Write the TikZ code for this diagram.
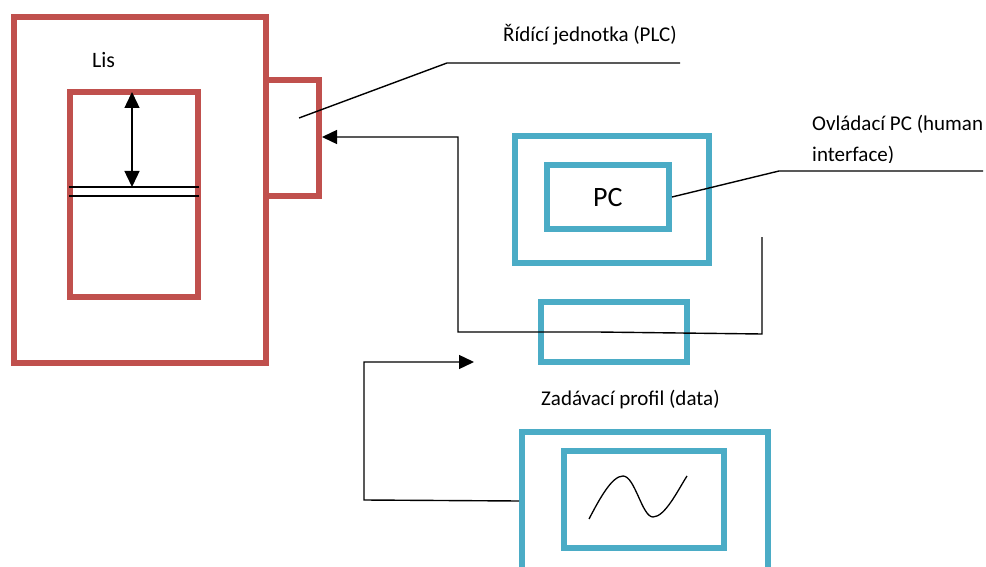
\documentclass[tikz,border=0pt]{standalone}
\usepackage{fontspec}
\setmainfont{Carlito}
\usetikzlibrary{arrows.meta}
\definecolor{lisred}{HTML}{C0504D}
\definecolor{pcblue}{HTML}{4BACC6}
\tikzset{
  redbox/.style={draw=lisred, line width=6pt, rectangle, inner sep=0pt, outer sep=0pt},
  bluebox/.style={draw=pcblue, line width=6.5pt, rectangle, inner sep=0pt, outer sep=0pt},
  wire/.style={draw=black, line width=1.4pt},
  arr/.style={wire, -{Triangle[length=15pt,width=14pt]}},
  darr/.style={wire, {Triangle[length=16pt,width=15pt]}-{Triangle[length=16pt,width=15pt]}},
  lbl/.style={font=\fontsize{21}{25}\selectfont, inner sep=0pt, anchor=base west},
}
\begin{document}
\begin{tikzpicture}[x=1pt,y=-1pt]
\useasboundingbox (0,0) rectangle (986,567);
% red machine
\node[redbox, minimum width=252pt, minimum height=346pt] (lis) at (140,190) {};
\node[redbox, minimum width=128pt, minimum height=205pt] (mold) at (134,194.5) {};
\node[redbox, minimum width=53pt, minimum height=116pt] (plc) at (292.5,138) {};
\node[lbl, font=\fontsize{22}{26}\selectfont] (lislbl) at (92,68) {Lis};
% ram lines and double arrow
\coordinate (l1a) at (69,187); \coordinate (l1b) at (199,187);
\coordinate (l2a) at (69,196); \coordinate (l2b) at (199,196);
\draw[wire] (l1a) -- (l1b);
\draw[wire] (l2a) -- (l2b);
\coordinate (atop) at (132,92); \coordinate (abot) at (132,187);
\draw[darr] (atop) -- (abot);
% PC
\node[bluebox, minimum width=194pt, minimum height=127pt] (pcout) at (612,199.5) {};
\node[bluebox, minimum width=122pt, minimum height=64pt] (pcin) at (608,197) {};
\node[inner sep=0pt, anchor=base west, font=\fontsize{28}{32}\selectfont] (pclbl) at (593,207) {PC};
% interface box
\node[bluebox, minimum width=146pt, minimum height=60pt] (iface) at (614,332) {};
% profile
\node[bluebox, minimum width=246pt, minimum height=148pt] (profout) at (645,506) {};
\node[bluebox, minimum width=160pt, minimum height=97pt] (profin) at (644,499.5) {};
\draw[wire, line width=1.3pt] (589,519) .. controls (600,498) and (612,476) .. (623,476)
  .. controls (635,476) and (642,517) .. (653,517)
  .. controls (665,517) and (678,490) .. (687,476);
% labels
\node[lbl] (plclbl) at (503,42) {Řídící jednotka (PLC)};
\node[lbl] (pclbl1) at (812,131) {Ovládací PC (human};
\begin{scope}
\clip (800,140) rectangle (986,163);
\node[lbl] (pclbl2) at (812,162) {interface)};
\end{scope}
\node[lbl] (proflbl) at (541,405) {Zadávací profil (data)};
% leader lines
\coordinate (plcl0) at (299,118); \coordinate (plcl1) at (447,63); \coordinate (plcl2) at (680,63);
\draw[wire] (plcl0) -- (plcl1) -- (plcl2);
\coordinate (pcl0) at (672,197); \coordinate (pcl1) at (779,171); \coordinate (pcl2) at (983,171);
\draw[wire] (pcl0) -- (pcl1) -- (pcl2);
% connector to PLC
\coordinate (c0) at (762,237); \coordinate (c1) at (762,334); \coordinate (c2) at (597,332);
\coordinate (c3) at (458,332); \coordinate (c4) at (458,137);
\draw[arr] (c0) -- (c1) -- (c2) -- (c3) -- (c4) -- ([xshift=3pt]plc.east |- c4);
% connector from profile
\coordinate (d1) at (364,500); \coordinate (d2) at (364,362); \coordinate (d3) at (474,362);
\draw[arr] ([xshift=-3pt]profout.west |- 0,501) -- (d1) -- (d2) -- (d3);
\end{tikzpicture}
\end{document}
